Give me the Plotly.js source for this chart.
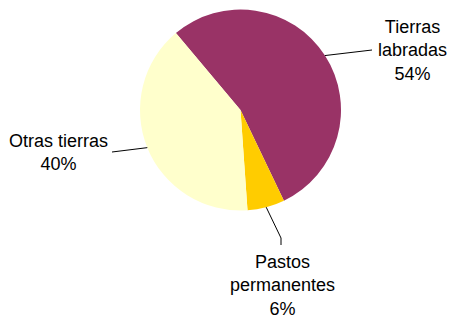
<!DOCTYPE html>
<html>
<head>
<meta charset="utf-8">
<script src="https://cdn.plot.ly/plotly-3.0.1.min.js"></script>
<style>html,body{margin:0;padding:0;background:#fff;}#chart{width:451px;height:319px;}</style>
</head>
<body>
<div id="chart"></div>
<script>
// Data
var categories = ["Tierras labradas", "Pastos permanentes", "Otras tierras"];
var displayLabels = ["Tierras<br>labradas", "Pastos<br>permanentes", "Otras tierras"];
var values = [54, 6, 40];
var colors = ["#993366", "#FFCC00", "#FFFFCC"];

// Layout settings (pixels)
var W = 451, H = 319;
var cx = 240.5, cy = 110, R = 100.5;
var rotation = -40;
// label anchor (text block centre) and leader-line path points after the edge point
var labelCfg = [
  {tx: 412, ty: 50, path: [[372, 50]]},
  {tx: 282, ty: 285, path: [[281, 238], [281, 245]]},
  {tx: 58, ty: 153, path: [[112, 152]]}
];

function px2x(p){ return p / W; }
function py2y(p){ return 1 - p / H; }

var total = values.reduce(function(a,b){return a+b;}, 0);
var shapes = [], annotations = [];
var acc = 0;
for (var i = 0; i < values.length; i++) {
  var mid = rotation + (acc + values[i] / 2) / total * 360;
  acc += values[i];
  var th = mid * Math.PI / 180;
  var ex = cx + R * Math.sin(th), ey = cy - R * Math.cos(th);
  var pts = [[ex, ey]].concat(labelCfg[i].path);
  var dp = pts.map(function(p, k){ return (k ? 'L' : 'M') + px2x(p[0]) + ',' + py2y(p[1]); }).join(' ');
  shapes.push({type: 'path', xref: 'paper', yref: 'paper', path: dp, line: {color: '#000', width: 1}});
  var pct = Math.round(values[i] / total * 100) + '%';
  annotations.push({
    xref: 'paper', yref: 'paper', x: px2x(labelCfg[i].tx), y: py2y(labelCfg[i].ty),
    xanchor: 'center', yanchor: 'middle', showarrow: false, align: 'center',
    text: displayLabels[i] + '<br>' + pct,
    font: {family: 'Liberation Sans, Arial, sans-serif', size: 18, color: '#000'}
  });
}

var trace = {
  type: 'pie',
  labels: categories,
  values: values,
  sort: false,
  direction: 'clockwise',
  rotation: rotation,
  textinfo: 'none',
  hoverinfo: 'label+percent',
  marker: {colors: colors, line: {width: 0}},
  domain: {x: [px2x(cx - R), px2x(cx + R)], y: [py2y(cy + R), py2y(cy - R)]},
  showlegend: false
};

var layout = {
  width: W, height: H,
  margin: {l: 0, r: 0, t: 0, b: 0},
  paper_bgcolor: '#fff', plot_bgcolor: '#fff',
  showlegend: false,
  shapes: shapes,
  annotations: annotations
};

Plotly.newPlot('chart', [trace], layout, {displayModeBar: false, staticPlot: true});
</script>
</body>
</html>
